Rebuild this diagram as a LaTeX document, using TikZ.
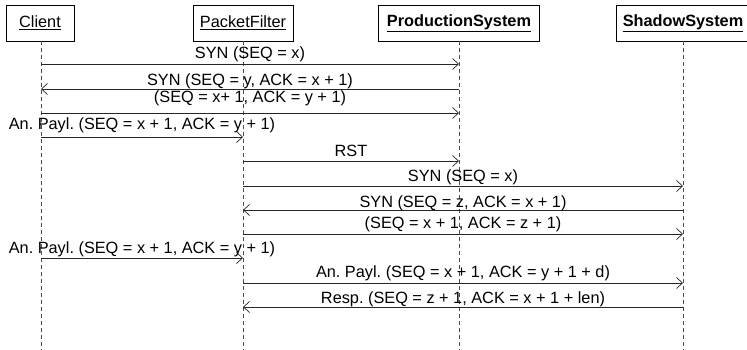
\documentclass[tikz,border=0pt]{standalone}
\usepackage{fontspec}
\setmainfont{Liberation Sans}
\usetikzlibrary{arrows.meta}
\frenchspacing
\begin{document}
\begin{tikzpicture}[x=1pt,y=-1pt,
  font=\fontsize{16.3}{19}\selectfont\frenchspacing,
  actor/.style={draw=black, line width=0.8pt, fill=white, minimum height=36pt, inner sep=0pt},
  life/.style={draw=black!70, dashed, dash pattern=on 4pt off 3pt, line width=0.6pt},
  msg/.style={draw=black!85, line width=0.8pt, -{Straight Barb[length=6pt,width=11pt,line width=0.7pt]}},
  bmsg/.style={draw=black!85, line width=0.8pt, {Straight Barb[length=6pt,width=11pt,line width=0.7pt]}-},
  lbl/.style={anchor=base, inner sep=0pt}]
\useasboundingbox (0,0) rectangle (747,350);
% lifelines
\coordinate (cb) at (41,350);
\coordinate (fb) at (243,350);
\coordinate (pb) at (459,350);
\coordinate (sb) at (683,350);
\node[actor, minimum width=68pt] (client) at (40,23) {\underline{Client}};
\node[actor, minimum width=100pt] (pf) at (243,23) {\underline{PacketFilter}};
\node[actor, minimum width=161pt] (prod) at (459,23) {\textbf{\underline{ProductionSystem}}};
\node[actor, minimum width=134pt] (shadow) at (683,23) {\textbf{\underline{ShadowSystem}}};
\draw[life] (client.south -| cb) -- (cb);
\draw[life] (pf.south) -- (fb);
\draw[life] (prod.south) -- (pb);
\draw[life] (shadow.south) -- (sb);
% messages
\draw[msg] (cb |- 0,64) -- node[lbl, yshift=5pt] {SYN (SEQ = x)} (pb |- 0,64);
\draw[bmsg] (cb |- 0,89) -- node[lbl, yshift=3pt] {SYN (SEQ = y, ACK = x + 1)} (pb |- 0,89);
\draw[msg] (cb |- 0,113) -- node[lbl, yshift=10pt] {(SEQ = x+ 1, ACK = y + 1)} (pb |- 0,113);
\draw[msg] (cb |- 0,137) -- node[lbl, yshift=7pt] {An. Payl. (SEQ = x + 1, ACK = y + 1)} (fb |- 0,137);
\draw[msg] (fb |- 0,161) -- node[lbl, yshift=4pt] {RST} (pb |- 0,161);
\draw[msg] (fb |- 0,186) -- node[lbl, yshift=5pt] {SYN (SEQ = x)} (sb |- 0,186);
\draw[bmsg] (fb |- 0,210) -- node[lbl, yshift=3pt] {SYN (SEQ = z, ACK = x + 1)} (sb |- 0,210);
\draw[msg] (fb |- 0,234) -- node[lbl, yshift=6pt] {(SEQ = x + 1, ACK = z + 1)} (sb |- 0,234);
\draw[msg] (cb |- 0,258) -- node[lbl, yshift=5pt] {An. Payl. (SEQ = x + 1, ACK = y + 1)} (fb |- 0,258);
\draw[msg] (fb |- 0,283) -- node[lbl, yshift=6pt] {An. Payl. (SEQ = x + 1, ACK = y + 1 + d)} (sb |- 0,283);
\draw[bmsg] (fb |- 0,307) -- node[lbl, yshift=4pt] {Resp. (SEQ = z + 1, ACK = x + 1 + len)} (sb |- 0,307);
\end{tikzpicture}
\end{document}
